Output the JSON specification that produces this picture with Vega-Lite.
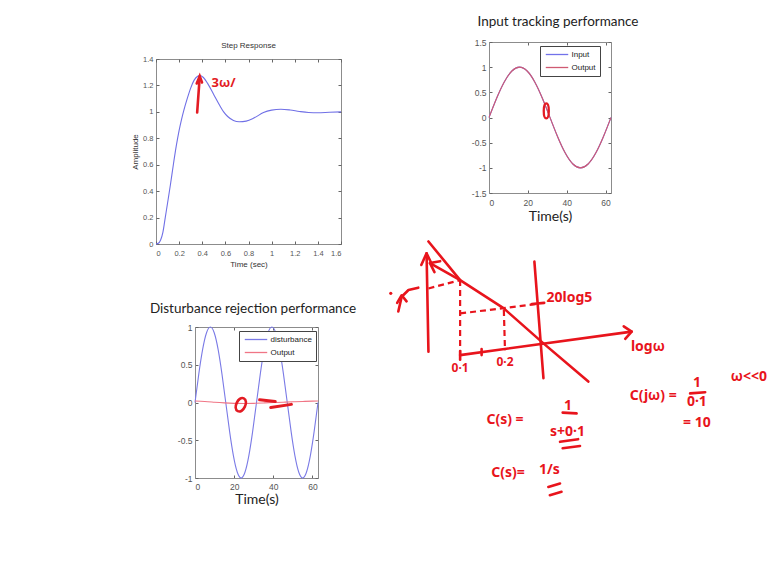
{
"$schema": "https://vega.github.io/schema/vega-lite/v6.json",
"background": "white",
"padding": 0,
"datasets": {
"step": [
{"t":0,"y":0},{"t":0.02,"y":0.005},{"t":0.04,"y":0.03},{"t":0.06,"y":0.09},{"t":0.08,"y":0.2},{"t":0.1,"y":0.31},{"t":0.125,"y":0.45},{"t":0.15,"y":0.6},{"t":0.175,"y":0.74},{"t":0.2,"y":0.86},{"t":0.22,"y":0.94},{"t":0.24,"y":1.01},{"t":0.27,"y":1.1},{"t":0.3,"y":1.18},{"t":0.33,"y":1.24},{"t":0.36,"y":1.27},{"t":0.38,"y":1.275},{"t":0.41,"y":1.26},{"t":0.45,"y":1.21},{"t":0.5,"y":1.13},{"t":0.55,"y":1.05},{"t":0.585,"y":1.0},{"t":0.62,"y":0.965},{"t":0.67,"y":0.935},{"t":0.72,"y":0.925},{"t":0.78,"y":0.93},{"t":0.85,"y":0.955},{"t":0.93,"y":0.995},{"t":1.0,"y":1.013},{"t":1.08,"y":1.02},{"t":1.16,"y":1.014},{"t":1.24,"y":1.003},{"t":1.32,"y":0.995},{"t":1.4,"y":0.993},{"t":1.5,"y":0.997},{"t":1.6,"y":1.0}
],
"stepArrow": [
{"seg":"a","o":1,"t":0.356,"y":0.995},{"seg":"a","o":2,"t":0.378,"y":1.265},
{"seg":"b","o":1,"t":0.352,"y":1.215},{"seg":"b","o":2,"t":0.378,"y":1.27},{"seg":"b","o":3,"t":0.398,"y":1.222}
],
"stepNote": [{"t":0.585,"y":1.22,"label":"3ω/"}],
"track": [
{"series":"Input","t":0,"y":0},{"series":"Input","t":3.927,"y":0.383},{"series":"Input","t":7.854,"y":0.707},{"series":"Input","t":11.781,"y":0.924},{"series":"Input","t":15.708,"y":1},{"series":"Input","t":19.635,"y":0.924},{"series":"Input","t":23.562,"y":0.707},{"series":"Input","t":27.489,"y":0.383},{"series":"Input","t":31.416,"y":0},{"series":"Input","t":35.343,"y":-0.383},{"series":"Input","t":39.27,"y":-0.707},{"series":"Input","t":43.197,"y":-0.924},{"series":"Input","t":47.124,"y":-1},{"series":"Input","t":51.051,"y":-0.924},{"series":"Input","t":54.978,"y":-0.707},{"series":"Input","t":58.905,"y":-0.383},{"series":"Input","t":62.832,"y":0},
{"series":"Output","t":0,"y":0},{"series":"Output","t":3.927,"y":0.383},{"series":"Output","t":7.854,"y":0.707},{"series":"Output","t":11.781,"y":0.924},{"series":"Output","t":15.708,"y":1},{"series":"Output","t":19.635,"y":0.924},{"series":"Output","t":23.562,"y":0.707},{"series":"Output","t":27.489,"y":0.383},{"series":"Output","t":31.416,"y":0},{"series":"Output","t":35.343,"y":-0.383},{"series":"Output","t":39.27,"y":-0.707},{"series":"Output","t":43.197,"y":-0.924},{"series":"Output","t":47.124,"y":-1},{"series":"Output","t":51.051,"y":-0.924},{"series":"Output","t":54.978,"y":-0.707},{"series":"Output","t":58.905,"y":-0.383},{"series":"Output","t":62.832,"y":0}
],
"trackNote": [{"t":29.5,"y":0.13}],
"dist": [
{"series":"disturbance","t":0,"y":0},{"series":"disturbance","t":1.963,"y":0.383},{"series":"disturbance","t":3.927,"y":0.707},{"series":"disturbance","t":5.89,"y":0.924},{"series":"disturbance","t":7.854,"y":1},{"series":"disturbance","t":9.817,"y":0.924},{"series":"disturbance","t":11.781,"y":0.707},{"series":"disturbance","t":13.744,"y":0.383},{"series":"disturbance","t":15.708,"y":0},{"series":"disturbance","t":17.671,"y":-0.383},{"series":"disturbance","t":19.635,"y":-0.707},{"series":"disturbance","t":21.598,"y":-0.924},{"series":"disturbance","t":23.562,"y":-1},{"series":"disturbance","t":25.525,"y":-0.924},{"series":"disturbance","t":27.489,"y":-0.707},{"series":"disturbance","t":29.452,"y":-0.383},{"series":"disturbance","t":31.416,"y":0},{"series":"disturbance","t":33.379,"y":0.383},{"series":"disturbance","t":35.343,"y":0.707},{"series":"disturbance","t":37.306,"y":0.924},{"series":"disturbance","t":39.27,"y":1},{"series":"disturbance","t":41.233,"y":0.924},{"series":"disturbance","t":43.197,"y":0.707},{"series":"disturbance","t":45.16,"y":0.383},{"series":"disturbance","t":47.124,"y":0},{"series":"disturbance","t":49.087,"y":-0.383},{"series":"disturbance","t":51.051,"y":-0.707},{"series":"disturbance","t":53.014,"y":-0.924},{"series":"disturbance","t":54.978,"y":-1},{"series":"disturbance","t":56.941,"y":-0.924},{"series":"disturbance","t":58.905,"y":-0.707},{"series":"disturbance","t":60.868,"y":-0.383},{"series":"disturbance","t":62.832,"y":0},
{"series":"Output","t":0,"y":0.02},{"series":"Output","t":5,"y":0.014},{"series":"Output","t":10,"y":0.004},{"series":"Output","t":15,"y":-0.005},{"series":"Output","t":20,"y":-0.011},{"series":"Output","t":25,"y":-0.013},{"series":"Output","t":30,"y":-0.011},{"series":"Output","t":35,"y":-0.006},{"series":"Output","t":40,"y":-0.001},{"series":"Output","t":45,"y":0.004},{"series":"Output","t":50,"y":0.009},{"series":"Output","t":55,"y":0.014},{"series":"Output","t":60,"y":0.018},{"series":"Output","t":62.832,"y":0.02}
],
"distNote": [{"t":23.4,"y":-0.03}],
"distDash": [
{"seg":"a","o":1,"t":33,"y":0.035},{"seg":"a","o":2,"t":41,"y":0.012},
{"seg":"b","o":1,"t":38.7,"y":-0.066},{"seg":"b","o":2,"t":49.2,"y":-0.025}
],
"sketchSolid": [
{"seg":"vax","o":1,"X":10.2,"Y":39.7},{"seg":"vax","o":2,"X":9.7,"Y":65.7},
{"seg":"vaxh","o":1,"X":8.3,"Y":62.6},{"seg":"vaxh","o":2,"X":9.7,"Y":65.7},{"seg":"vaxh","o":3,"X":11.1,"Y":62.8},
{"seg":"diag","o":1,"X":10.2,"Y":68.8},{"seg":"diag","o":2,"X":18.6,"Y":58.6},{"seg":"diag","o":3,"X":30.1,"Y":51.2},{"seg":"diag","o":4,"X":40.7,"Y":41.9},{"seg":"diag","o":5,"X":52.6,"Y":31.8},
{"seg":"arr","o":1,"X":18.6,"Y":58.6},{"seg":"arr","o":2,"X":10.6,"Y":63.1},
{"seg":"arrh","o":1,"X":13.3,"Y":63.6},{"seg":"arrh","o":2,"X":10.6,"Y":63.1},{"seg":"arrh","o":3,"X":11.8,"Y":60.7},
{"seg":"hax","o":1,"X":18.6,"Y":38.8},{"seg":"hax","o":2,"X":64.1,"Y":45.0},
{"seg":"haxh","o":1,"X":62.0,"Y":46.4},{"seg":"haxh","o":2,"X":64.1,"Y":45.0},{"seg":"haxh","o":3,"X":62.4,"Y":43.1},
{"seg":"vr","o":1,"X":38.3,"Y":63.5},{"seg":"vr","o":2,"X":40.7,"Y":32.7},
{"seg":"curl","o":1,"X":2.2,"Y":50.3},{"seg":"curl","o":2,"X":3.1,"Y":54.2},{"seg":"curl","o":3,"X":4.9,"Y":56.0},{"seg":"curl","o":4,"X":7.5,"Y":56.6},
{"seg":"curlh","o":1,"X":1.9,"Y":52.6},{"seg":"curlh","o":2,"X":3.1,"Y":54.6},{"seg":"curlh","o":3,"X":4.4,"Y":53.0},
{"seg":"tk1","o":1,"X":37.6,"Y":52.3},{"seg":"tk1","o":2,"X":40.9,"Y":52.6},
{"seg":"tk2","o":1,"X":18.6,"Y":39.9},{"seg":"tk2","o":2,"X":18.6,"Y":37.6},
{"seg":"tk3","o":1,"X":24.3,"Y":40.4},{"seg":"tk3","o":2,"X":24.3,"Y":38.8},
{"seg":"fb1","o":1,"X":45.8,"Y":23.6},{"seg":"fb1","o":2,"X":49.5,"Y":23.4},
{"seg":"u1","o":1,"X":45.1,"Y":15.9},{"seg":"u1","o":2,"X":49.9,"Y":16.6},
{"seg":"u2","o":1,"X":45.8,"Y":14.2},{"seg":"u2","o":2,"X":50.4,"Y":14.8},
{"seg":"u3","o":1,"X":42.0,"Y":4.0},{"seg":"u3","o":2,"X":45.1,"Y":4.9},
{"seg":"u4","o":1,"X":42.4,"Y":1.8},{"seg":"u4","o":2,"X":45.5,"Y":2.7},
{"seg":"fb2","o":1,"X":79.6,"Y":28.7},{"seg":"fb2","o":2,"X":83.6,"Y":29.0}
],
"sketchDashed": [
{"seg":"d1","o":1,"X":10.2,"Y":56.4},{"seg":"d1","o":2,"X":18.6,"Y":58.6},
{"seg":"d2","o":1,"X":18.6,"Y":58.6},{"seg":"d2","o":2,"X":18.6,"Y":38.8},
{"seg":"d3","o":1,"X":18.6,"Y":49.8},{"seg":"d3","o":2,"X":30.1,"Y":51.2},{"seg":"d3","o":3,"X":38.9,"Y":52.3},
{"seg":"d4","o":1,"X":30.2,"Y":50.7},{"seg":"d4","o":2,"X":30.5,"Y":40.1}
],
"sketchDot": [{"X":0.2,"Y":55.1}],
"sketchSmall": [
{"X":18.6,"Y":35.4,"label":"0·1"},{"X":30.5,"Y":37.0,"label":"0·2"}
],
"sketchText": [
{"X":47.6,"Y":53.9,"label":"20log5"},{"X":68.4,"Y":40.9,"label":"logω"},
{"X":30.5,"Y":21.7,"label":"C(s) ="},{"X":47.2,"Y":25.3,"label":"1"},{"X":47.1,"Y":18.5,"label":"s+0·1"},
{"X":31.3,"Y":7.7,"label":"C(s)="},{"X":42.3,"Y":8.5,"label":"1/s"},
{"X":69.8,"Y":28.0,"label":"C(jω) ="},{"X":81.4,"Y":31.4,"label":"1"},{"X":81.4,"Y":26.3,"label":"0·1"},{"X":81.4,"Y":21.0,"label":"= 10"}
],
"sketchRight": [{"X":100,"Y":33.0,"label":"ω<<0"}]
},
"columns": 4,
"spacing": 0,
"align": "each",
"bounds": "flush",
"resolve": {"scale": {"color": "independent"}, "legend": {"color": "independent"}},
"concat": [
{"width":156,"height":59,"data":{"values":[]},"mark":"point"},
{"width":234,"height":59,"data":{"values":[]},"mark":"point"},
{"width":99,"height":1,"data":{"values":[]},"mark":"point"},
{"width":122,"height":1,"data":{"values":[]},"mark":"point"},
{"width":156,"height":1,"data":{"values":[]},"mark":"point"},
{
"width":185,"height":185,
"view":{"stroke":"#8c8c8c"},
"title":{"text":"Step Response","fontSize":8,"color":"#333","offset":5},
"layer":[
{"data":{"name":"step"},"mark":{"type":"line","color":"#7070e6","strokeWidth":1.1,"interpolate":"monotone"},
"encoding":{
"x":{"field":"t","type":"quantitative","scale":{"domain":[0,1.6],"nice":false,"zero":false},"axis":{"title":"Time (sec)","values":[0,0.2,0.4,0.6,0.8,1,1.2,1.4,1.6],"format":"~g","labelFontSize":7.5,"labelPadding":8,"titlePadding":4}},
"y":{"field":"y","type":"quantitative","scale":{"domain":[0,1.4],"nice":false},"axis":{"title":"Amplitude","values":[0,0.2,0.4,0.6,0.8,1,1.2,1.4],"format":"~g","labelFontSize":7.5,"labelPadding":6,"titlePadding":3}}}},
{"data":{"name":"step"},"mark":{"type":"line","opacity":0},
"encoding":{
"x":{"field":"t","type":"quantitative","axis":{"orient":"top","labels":false,"title":null,"values":[0,0.2,0.4,0.6,0.8,1,1.2,1.4,1.6]}},
"y":{"field":"y","type":"quantitative","axis":{"orient":"right","labels":false,"title":null,"values":[0,0.2,0.4,0.6,0.8,1,1.2,1.4]}}}},
{"mark":{"type":"rule","color":"#111","strokeDash":[1.5,2],"strokeWidth":1},"encoding":{"y":{"datum":1,"axis":null}}},
{"data":{"name":"stepArrow"},"mark":{"type":"line","color":"#e31b23","strokeWidth":2.6,"strokeCap":"round"},
"encoding":{"x":{"field":"t","type":"quantitative","axis":null},"y":{"field":"y","type":"quantitative","axis":null},"detail":{"field":"seg"},"order":{"field":"o"}}},
{"data":{"name":"stepNote"},"mark":{"type":"text","color":"#e31b23","fontSize":13,"fontWeight":"bold","font":"Noto Sans"},
"encoding":{"x":{"field":"t","type":"quantitative","axis":null},"y":{"field":"y","type":"quantitative","axis":null},"text":{"field":"label"}}}
],
"resolve":{"axis":{"x":"independent","y":"independent"}}
},
{
"width":99,"height":268,
"layer":[
{"data":{"name":"sketchSolid"},"mark":{"type":"line","color":"#e8141c","strokeWidth":2.6,"strokeCap":"round","strokeJoin":"round"},
"encoding":{"x":{"field":"X","type":"quantitative","scale":{"domain":[0,26.26],"nice":false,"zero":false},"axis":null},"y":{"field":"Y","type":"quantitative","scale":{"domain":[46.22,116.99],"nice":false,"zero":false},"axis":null},"detail":{"field":"seg"},"order":{"field":"o"}}},
{"data":{"name":"sketchDashed"},"mark":{"type":"line","color":"#e8141c","strokeWidth":2.2,"strokeDash":[6,4]},
"encoding":{"x":{"field":"X","type":"quantitative"},"y":{"field":"Y","type":"quantitative"},"detail":{"field":"seg"},"order":{"field":"o"}}},
{"data":{"name":"sketchDot"},"mark":{"type":"point","filled":true,"color":"#e8141c","size":10,"opacity":1},
"encoding":{"x":{"field":"X","type":"quantitative"},"y":{"field":"Y","type":"quantitative"}}},
{"data":{"name":"sketchSmall"},"mark":{"type":"text","color":"#e8141c","font":"Noto Sans","fontSize":12,"fontWeight":"bold"},
"encoding":{"x":{"field":"X","type":"quantitative"},"y":{"field":"Y","type":"quantitative"},"text":{"field":"label"}}},
{"data":{"name":"sketchText"},"mark":{"type":"text","color":"#e8141c","font":"Noto Sans","fontSize":14,"fontWeight":"bold"},
"encoding":{"x":{"field":"X","type":"quantitative"},"y":{"field":"Y","type":"quantitative"},"text":{"field":"label"}}},
{"data":{"name":"sketchRight"},"mark":{"type":"text","color":"#e8141c","font":"Noto Sans","fontSize":14,"fontWeight":"bold","align":"right"},
"encoding":{"x":{"field":"X","type":"quantitative"},"y":{"field":"Y","type":"quantitative"},"text":{"field":"label"}}}
]
},
{
"width":122,"height":134,
"view":{"stroke":null},
"title":{"text":"Input tracking performance","font":"Lato","fontSize":13.5,"color":"#222","offset":10,"dx":8},
"layer":[
{"data":{"name":"track"},"mark":{"type":"line","strokeWidth":1.1,"interpolate":"natural"},
"encoding":{
"x":{"field":"t","type":"quantitative","scale":{"domain":[0,62.832],"nice":false,"zero":false},"axis":{"title":"Time(s)","titleFont":"Lato","titleFontSize":14,"titleColor":"#222","titlePadding":3,"values":[0,20,40,60],"labelFontSize":8.5,"labelPadding":8,"domain":true,"domainColor":"#8c8c8c"}},
"y":{"field":"y","type":"quantitative","scale":{"domain":[-1.5,1.5],"nice":false,"range":[134,-17]},"axis":{"title":null,"values":[-1.5,-1,-0.5,0,0.5,1,1.5],"labelExpr":"datum.value < 0 ? '-' + format(-datum.value, '~g') : format(datum.value, '~g')","labelFontSize":8.5,"labelPadding":6,"domain":true,"domainColor":"#8c8c8c"}},
"color":{"field":"series","type":"nominal","scale":{"domain":["Input","Output"],"range":["#7272ea","#cf5a72"]},
"legend":{"title":null,"orient":"none","legendX":51,"legendY":-13,"padding":4,"strokeColor":"#444","fillColor":"#ffffff","symbolType":"M-3,0H3","symbolSize":56,"symbolOffset":8.5,"symbolStrokeWidth":1.3,"labelFont":"Liberation Sans","labelFontSize":8,"labelColor":"#222","rowPadding":4,"labelOffset":10}}}},
{"data":{"name":"track"},"mark":{"type":"line","opacity":0},
"encoding":{
"x":{"field":"t","type":"quantitative","axis":{"orient":"top","offset":17,"labels":false,"title":null,"values":[0,20,40,60],"domain":true,"domainColor":"#8c8c8c"}},
"y":{"field":"y","type":"quantitative","axis":{"orient":"right","labels":false,"title":null,"values":[-1.5,-1,-0.5,0,0.5,1,1.5],"domain":true,"domainColor":"#8c8c8c"}}}},
{"data":{"name":"trackNote"},"mark":{"type":"point","shape":"M0,-1C0.45,-1 0.45,1 0,1C-0.45,1 -0.45,-1 0,-1Z","size":225,"filled":false,"stroke":"#e31b23","strokeWidth":2.3,"opacity":1},
"encoding":{"x":{"field":"t","type":"quantitative","axis":null},"y":{"field":"y","type":"quantitative","axis":null}}}
],
"resolve":{"axis":{"x":"independent","y":"independent"}}
},
{"width":156,"height":1,"data":{"values":[]},"mark":"point"},
{
"width":162,"height":151,
"view":{"stroke":null},
"title":{"text":"Disturbance rejection performance","font":"Lato","fontSize":13.5,"color":"#222","offset":8,"dx":16},
"layer":[
{"data":{"name":"dist"},"mark":{"type":"line","strokeWidth":1.1,"interpolate":"natural"},
"encoding":{
"x":{"field":"t","type":"quantitative","scale":{"domain":[0,62.832],"nice":false,"zero":false,"range":[39,162]},"axis":{"title":"Time(s)","titleFont":"Lato","titleFontSize":14,"titleColor":"#222","titlePadding":2,"values":[0,20,40,60],"labelFontSize":8.5,"labelPadding":7,"domain":true,"domainColor":"#8c8c8c"}},
"y":{"field":"y","type":"quantitative","scale":{"domain":[-1,1],"nice":false},"axis":{"title":null,"offset":-39,"values":[-1,-0.5,0,0.5,1],"labelExpr":"datum.value < 0 ? '-' + format(-datum.value, '~g') : format(datum.value, '~g')","labelFontSize":8.5,"labelPadding":6,"domain":true,"domainColor":"#8c8c8c"}},
"color":{"field":"series","type":"nominal","scale":{"domain":["disturbance","Output"],"range":["#7a7ae6","#f07585"]},
"legend":{"title":null,"orient":"none","legendX":83,"legendY":4,"padding":4,"strokeColor":"#444","fillColor":"#ffffff","symbolType":"M-3,0H3","symbolSize":56,"symbolOffset":8.5,"symbolStrokeWidth":1.3,"labelFont":"Liberation Sans","labelFontSize":8,"labelColor":"#222","rowPadding":4,"labelOffset":10}}}},
{"data":{"name":"dist"},"mark":{"type":"line","opacity":0},
"encoding":{
"x":{"field":"t","type":"quantitative","axis":{"orient":"top","labels":false,"title":null,"values":[0,20,40,60],"domain":true,"domainColor":"#8c8c8c"}},
"y":{"field":"y","type":"quantitative","axis":{"orient":"right","labels":false,"title":null,"values":[-1,-0.5,0,0.5,1],"domain":true,"domainColor":"#8c8c8c"}}}},
{"data":{"name":"distNote"},"mark":{"type":"point","shape":"M0,-1C0.85,-1 0.85,1 0,1C-0.85,1 -0.85,-1 0,-1Z","size":200,"filled":false,"stroke":"#e31b23","strokeWidth":2.6,"opacity":1,"angle":25},
"encoding":{"x":{"field":"t","type":"quantitative","axis":null},"y":{"field":"y","type":"quantitative","axis":null}}},
{"data":{"name":"distDash"},"mark":{"type":"line","color":"#e31b23","strokeWidth":3,"strokeCap":"round"},
"encoding":{"x":{"field":"t","type":"quantitative","axis":null},"y":{"field":"y","type":"quantitative","axis":null},"detail":{"field":"seg"},"order":{"field":"o"}}}
],
"resolve":{"axis":{"x":"independent","y":"independent"}}
}
],
"config": {
"view": {"stroke": null},
"axis": {"grid": false, "domain": false, "tickSize": -3, "tickColor": "#666", "labelFont": "Liberation Sans", "labelFontSize": 8, "labelColor": "#555", "titleFont": "Liberation Sans", "titleFontSize": 8, "titleFontWeight": "normal", "titleColor": "#333"},
"title": {"font": "Liberation Sans", "fontWeight": "normal", "anchor": "middle"}
}
}
